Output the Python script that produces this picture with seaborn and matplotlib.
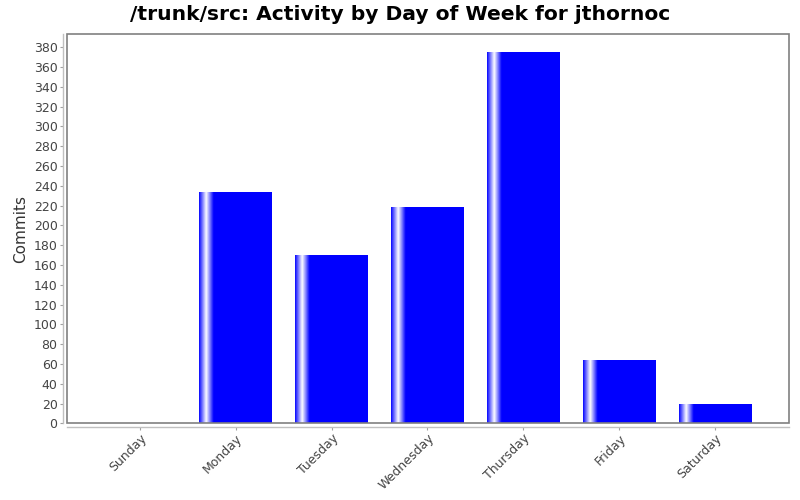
import numpy as np
import pandas as pd
import matplotlib
matplotlib.use("Agg")
import matplotlib.pyplot as plt
from matplotlib.patches import Rectangle
import seaborn as sns

days = ["Sunday", "Monday", "Tuesday", "Wednesday", "Thursday", "Friday", "Saturday"]
commits = [0, 234, 170, 219, 375, 64, 20]
y_ticks = list(range(0, 381, 20))

title = "/trunk/src: Activity by Day of Week for jthornoc"
y_label = "Commits"

sns.set_theme(style="white")
plt.rcParams["font.family"] = ["DejaVu Sans"]

fig = plt.figure(figsize=(8, 5), dpi=100)
W, H = 800, 500
left, right, top, bottom = 67.3, 788.7, 34.3, 423.3
ax = fig.add_axes([left / W, 1 - bottom / H, (right - left) / W, (bottom - top) / H])

df = pd.DataFrame({"day": days, "commits": commits})
sns.barplot(data=df, x="day", y="commits", color="#0000ff", saturation=1,
            width=0.757, ax=ax, linewidth=0)

# gradient highlight (left stripe) for each bar
n = 200
grad = np.zeros((1, n, 3))
blue = np.array([0.0, 0.0, 1.0])
white = np.array([1.0, 1.0, 1.0])
for i in range(n):
    f = (i + 0.5) / n
    if f < 0.10:
        t = f / 0.10
        c = blue * (1 - t) + white * t
    elif f < 0.20:
        t = (f - 0.10) / 0.10
        c = white * (1 - t) + blue * t
    else:
        c = blue
    grad[0, i] = c

for p in ax.patches:
    x0 = p.get_x()
    w = p.get_width()
    h = p.get_height()
    if h <= 0:
        continue
    im = ax.imshow(grad, extent=[x0, x0 + w, 0, h], aspect="auto",
                   interpolation="bilinear", zorder=p.get_zorder() + 0.1)
    im.set_clip_path(p)

ax.set_xlim(-0.754, 6.765)
ax.set_ylim(0, 393.1)
ax.set_yticks(y_ticks)
ax.set_yticklabels([str(v) for v in y_ticks])

fig.text(0.5, 1 - 14 / H, title, fontsize=14.6, fontweight="bold", color="black",
         ha="center", va="center")
ax.set_xlabel("")
ax.set_ylabel(y_label, fontsize=11, color="#333333", labelpad=4)

for s in ["top", "right"]:
    ax.spines[s].set_visible(False)
for s in ["left", "bottom"]:
    ax.spines[s].set_position(("outward", 3))
    ax.spines[s].set_color("#c0c0c0")
    ax.spines[s].set_linewidth(1.0)

border = Rectangle((0, 0), 1, 1, transform=ax.transAxes, fill=False,
                   edgecolor="#808080", linewidth=1.2, clip_on=False, zorder=10)
ax.add_patch(border)

ax.tick_params(axis="both", which="both", direction="out", length=2,
               width=0.8, color="#a0a0a0", labelsize=9, labelcolor="#444444",
               left=True, bottom=True)
ax.tick_params(axis="y", pad=2)
ax.tick_params(axis="x", pad=1)
for lbl in ax.get_xticklabels():
    lbl.set_rotation(45)
    lbl.set_ha("right")
    lbl.set_rotation_mode("anchor")

fig.savefig("out.png", dpi=100, facecolor="white")
